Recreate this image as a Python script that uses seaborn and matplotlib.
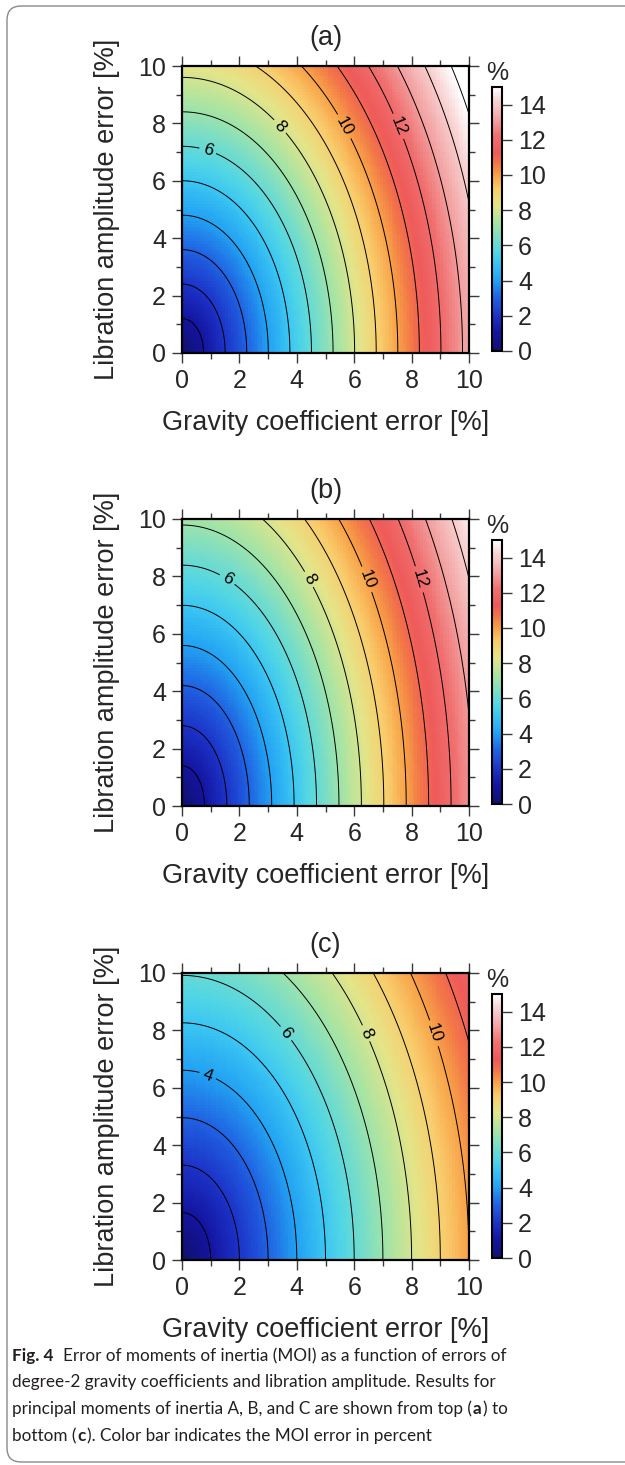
import numpy as np
import matplotlib
matplotlib.use("Agg")
import matplotlib.pyplot as plt
import seaborn as sns
from matplotlib.colors import LinearSegmentedColormap
from matplotlib.patches import FancyBboxPatch
from matplotlib.transforms import IdentityTransform

# ---------------- data ----------------
panel_labels = ["(a)", "(b)", "(c)"]
# MOI error (%) per 1 % of gravity-coefficient error / libration-amplitude error
gravity_sensitivity = [1.33, 1.28, 1.00]
libration_sensitivity = [0.833, 0.715, 0.605]
contour_levels = list(range(1, 16))
labeled_levels = [[6, 8, 10, 12], [6, 8, 10, 12], [4, 6, 8, 10]]
axis_ticks = [0, 2, 4, 6, 8, 10]
axis_minor_ticks = [1, 3, 5, 7, 9]
cbar_ticks = [0, 2, 4, 6, 8, 10, 12, 14]
error_max = 10.0
cbar_max = 15.0
x_label = "Gravity coefficient error [%]"
y_label = "Libration amplitude error [%]"
cbar_unit = "%"
caption_lines = [
    [("Fig. 4", "bold"), ("  ", None), ("Error of moments of inertia (MOI) as a function of errors of", "normal")],
    [("degree-2 gravity coefficients and libration amplitude. Results for", "normal")],
    [("principal moments of inertia A, B, and C are shown from top (", "normal"), ("a", "bold"), (") to", "normal")],
    [("bottom (", "normal"), ("c", "bold"), ("). Color bar indicates the MOI error in percent", "normal")],
]

# colour palette anchors (value -> colour)
cmap_values = [0, 1, 2, 3, 4, 5, 5.6, 6.3, 7.2, 8.3, 9.2, 10, 10.7, 11.3, 12.2, 13.2, 14.2, 15]
cmap_colors = ["#10106e", "#1414a0", "#1c34c8", "#2062e2", "#22a2f2", "#3cc6f2",
               "#52d6e4", "#74dcca", "#a6e4a4", "#e4e488", "#f8cc6c", "#f8a248",
               "#f27448", "#ef5a5a", "#f06e6e", "#f3a4a4", "#f8d2d2", "#ffffff"]

# ---------------- style ----------------
sns.set_style("ticks")
plt.rcParams["font.family"] = ["Liberation Sans", "DejaVu Sans"]
W, H = 625, 1465
fig = plt.figure(figsize=(W / 100, H / 100), dpi=100)
fig.patch.set_facecolor("white")

cmap = LinearSegmentedColormap.from_list(
    "moi", list(zip(np.array(cmap_values) / cbar_max, cmap_colors)))

N = 100                       # heat-map cells per axis
scale = N / error_max         # data -> heat-map coordinate
centers = (np.arange(N) + 0.5) / scale
fine = np.linspace(0, error_max, 301)

axes_tops = [66, 519, 973]     # pixel rows of the top of each panel
panel_h = 287
ax_left, ax_w = 182, 287
cb_left, cb_w, cb_h = 492, 10, 264

tick_fs = 18
label_fs = 19.5
label_row = 7.9               # contour labels sit near this libration error
label_min_x = 0.9

for k in range(3):
    gs_, ls_ = gravity_sensitivity[k], libration_sensitivity[k]
    top = axes_tops[k]
    ax = fig.add_axes([ax_left / W, 1 - (top + panel_h) / H, ax_w / W, panel_h / H])
    cb_bottom = top + panel_h - 2
    cax = fig.add_axes([cb_left / W, 1 - cb_bottom / H, cb_w / W, cb_h / H])

    Xc, Yc = np.meshgrid(centers, centers)
    Z = np.hypot(gs_ * Xc, ls_ * Yc)
    sns.heatmap(Z, ax=ax, cmap=cmap, vmin=0, vmax=cbar_max, cbar=True, cbar_ax=cax,
                cbar_kws={"ticks": cbar_ticks}, xticklabels=False, yticklabels=False,
                rasterized=True)
    ax.invert_yaxis()
    ax.set_xlim(0, N)
    ax.set_ylim(0, N)

    Xf, Yf = np.meshgrid(fine, fine)
    Zf = np.hypot(gs_ * Xf, ls_ * Yf)
    plain = [L for L in contour_levels if L not in labeled_levels[k]]
    ax.contour(Xf * scale, Yf * scale, Zf, levels=plain,
               colors="black", linewidths=0.7)
    cs = ax.contour(Xf * scale, Yf * scale, Zf, levels=labeled_levels[k],
                    colors="black", linewidths=0.7)
    pts = []
    for L in labeled_levels[k]:
        xt = np.sqrt(max(L ** 2 - (ls_ * label_row) ** 2, 0)) / gs_
        xt = max(xt, label_min_x)
        yt = np.sqrt(max(L ** 2 - (gs_ * xt) ** 2, 0)) / ls_
        pts.append((xt * scale, yt * scale))
    ax.clabel(cs, manual=pts, fmt="%d", fontsize=12.5, inline=True, inline_spacing=4)

    ax.set_xticks(np.array(axis_ticks) * scale)
    ax.set_xticklabels([str(t) for t in axis_ticks], rotation=0)
    ax.set_yticks(np.array(axis_ticks) * scale)
    ax.set_yticklabels([str(t) for t in axis_ticks], rotation=0)
    ax.set_xticks(np.array(axis_minor_ticks) * scale, minor=True)
    ax.set_yticks(np.array(axis_minor_ticks) * scale, minor=True)
    ax.tick_params(which="both", direction="out", top=True, right=True,
                   labeltop=False, labelright=False, color="#3a3a3a", width=1.0)
    ax.tick_params(which="major", length=7.5, labelsize=tick_fs, pad=4)
    ax.tick_params(which="minor", length=4)
    for sp in ax.spines.values():
        sp.set_visible(True)
        sp.set_linewidth(1.6)
        sp.set_color("black")
        sp.set_zorder(5)

    ax.set_xlabel(x_label, fontsize=label_fs, labelpad=12)
    ax.set_ylabel(y_label, fontsize=label_fs, labelpad=13)
    ax.set_title(panel_labels[k], fontsize=label_fs, pad=15)

    cbar = ax.collections[0].colorbar
    cbar.outline.set_linewidth(1.5)
    cbar.outline.set_edgecolor("black")
    cax.tick_params(direction="out", length=7.5, width=1.0, color="#3a3a3a",
                    labelsize=tick_fs, pad=4)
    cax.minorticks_off()
    cax.set_title(cbar_unit, fontsize=tick_fs, pad=5)

# ---------------- rounded frame ----------------
frame = FancyBboxPatch((7, 3), 720, H - 9, boxstyle="round,pad=0,rounding_size=14",
                       transform=IdentityTransform(), fill=False,
                       edgecolor="#8a8a8a", linewidth=1.0)
fig.add_artist(frame)

# ---------------- caption ----------------
cap_font = ["Lato", "DejaVu Sans"]
renderer = fig.canvas.get_renderer()


def text_width(s, size, weight="normal"):
    t = fig.text(0, 0.5, s, fontsize=size, family=cap_font, fontweight=weight)
    w = t.get_window_extent(renderer).width
    t.remove()
    return w


cap_fs = 12.0
for _ in range(4):
    cap_fs *= 481.0 / text_width(caption_lines[1][0][0], cap_fs)
space_w = text_width("x x", cap_fs) - text_width("xx", cap_fs)

baselines = [1361, 1387, 1414, 1441]
for line, base in zip(caption_lines, baselines):
    x = 12.0
    for text, weight in line:
        if weight is None:
            x += space_w * len(text)
            continue
        t = fig.text(x / W, 1 - base / H, text, fontsize=cap_fs, family=cap_font,
                     fontweight=weight, color="#231f20", ha="left", va="baseline")
        x = t.get_window_extent(renderer).x1 + 1.0

fig.savefig("out.png", dpi=100)
